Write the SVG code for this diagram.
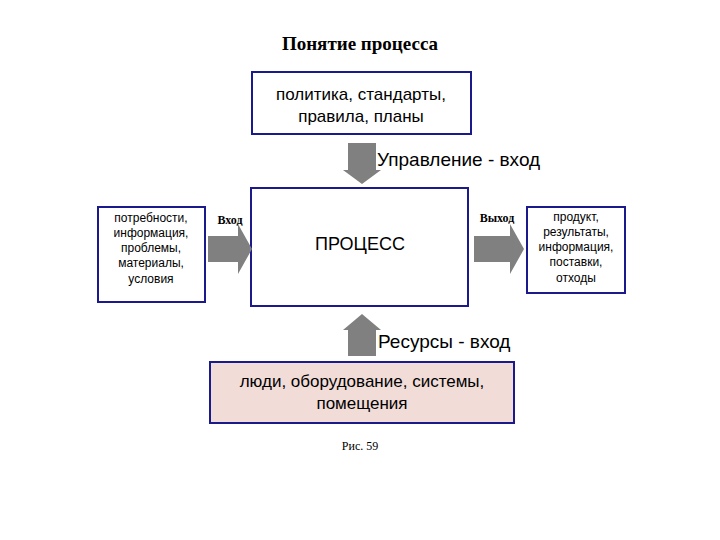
<svg xmlns="http://www.w3.org/2000/svg" width="720" height="540" viewBox="0 0 720 540">
<style>
.b{fill:#fff;stroke:#1a1a8c;stroke-width:2}
.s{font-family:"Liberation Sans",Arial,sans-serif;fill:#000;text-anchor:middle}
.t{font-family:"Liberation Serif","Times New Roman",serif;fill:#000;text-anchor:middle}
.a{fill:#808080}
</style>
<rect width="720" height="540" fill="#fff"/>
<text class="t" x="360" y="50" font-size="19" font-weight="bold">Понятие процесса</text>
<g id="policy"><rect class="b" x="252" y="72" width="219" height="62"/>
<text class="s" x="361" y="100" font-size="17">политика, стандарты,</text>
<text class="s" x="361" y="122" font-size="17">правила, планы</text></g>
<g id="process"><rect class="b" x="251" y="188" width="217" height="118"/>
<text class="s" x="360" y="250" font-size="18">ПРОЦЕСС</text></g>
<g id="inputs"><rect class="b" x="98" y="207" width="107" height="95"/>
<text class="s" x="151" y="222" font-size="12">потребности,</text>
<text class="s" x="151" y="237" font-size="12">информация,</text>
<text class="s" x="151" y="252" font-size="12">проблемы,</text>
<text class="s" x="151" y="267" font-size="12">материалы,</text>
<text class="s" x="151" y="283" font-size="12">условия</text></g>
<g id="outputs"><rect class="b" x="527" y="207" width="98" height="86"/>
<text class="s" x="576" y="221" font-size="12">продукт,</text>
<text class="s" x="576" y="236" font-size="12">результаты,</text>
<text class="s" x="576" y="251" font-size="12">информация,</text>
<text class="s" x="576" y="266" font-size="12">поставки,</text>
<text class="s" x="576" y="282" font-size="12">отходы</text></g>
<g id="resources"><rect x="210" y="362" width="304" height="61" fill="#f2dcd8" stroke="#1a1a8c" stroke-width="2"/>
<text class="s" x="362" y="387" font-size="17">люди, оборудование, системы,</text>
<text class="s" x="362" y="409" font-size="17">помещения</text></g>
<g id="connectors">
<polygon class="a" points="348,143 376,143 376,170 381,170 362,184 343,170 348,170"/>
<polygon class="a" points="208,236 238,236 238,224 252,249 238,274 238,262 208,262"/>
<polygon class="a" points="474,236 510,236 510,224 524,249 510,274 510,262 474,262"/>
<polygon class="a" points="348,356 376,356 376,330 381,330 362,314 343,330 348,330"/>
</g>
<text class="s" x="377" y="166" font-size="19" text-anchor="start" style="text-anchor:start">Управление - вход</text>
<text class="s" x="378" y="348" font-size="19" style="text-anchor:start">Ресурсы - вход</text>
<text class="t" x="230" y="224" font-size="12" font-weight="bold">Вход</text>
<text class="t" x="497" y="222" font-size="12" font-weight="bold">Выход</text>
<text class="t" x="360" y="450" font-size="12">Рис. 59</text>
</svg>
